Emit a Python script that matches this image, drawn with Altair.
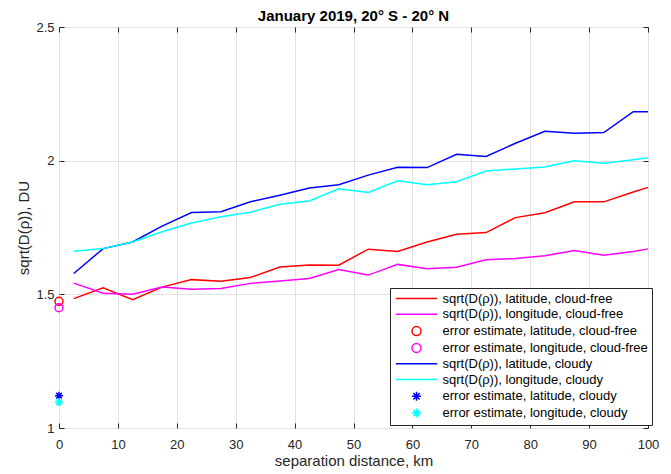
import altair as alt
import pandas as pd

# ---- data ----
distance_km = [2.5, 7.5, 12.5, 17.5, 22.5, 27.5, 32.5, 37.5, 42.5, 47.5, 52.5,
               57.5, 62.5, 67.5, 72.5, 77.5, 82.5, 87.5, 92.5, 97.5, 100]
lat_cloudfree = [1.484, 1.524, 1.480, 1.527, 1.555, 1.549, 1.563, 1.602, 1.610, 1.609, 1.669,
                 1.660, 1.696, 1.725, 1.731, 1.787, 1.805, 1.846, 1.846, 1.883, 1.900]
lon_cloudfree = [1.542, 1.504, 1.500, 1.527, 1.519, 1.522, 1.541, 1.550, 1.559, 1.593, 1.572,
                 1.612, 1.596, 1.601, 1.629, 1.634, 1.644, 1.664, 1.646, 1.660, 1.670]
lat_cloudy = [1.578, 1.671, 1.696, 1.755, 1.806, 1.809, 1.846, 1.871, 1.898, 1.910, 1.946,
              1.975, 1.974, 2.024, 2.016, 2.065, 2.110, 2.103, 2.105, 2.183, 2.183]
lon_cloudy = [1.661, 1.671, 1.696, 1.734, 1.767, 1.790, 1.807, 1.837, 1.849, 1.895, 1.881,
              1.925, 1.910, 1.921, 1.961, 1.969, 1.976, 2.000, 1.990, 2.003, 2.011]
err_x = [0, 0, 0, 0]
err_values = [1.474, 1.450, 1.121, 1.096]

series_names = [
    "sqrt(D(ρ)), latitude, cloud-free",
    "sqrt(D(ρ)), longitude, cloud-free",
    "error estimate, latitude, cloud-free",
    "error estimate, longitude, cloud-free",
    "sqrt(D(ρ)), latitude, cloudy",
    "sqrt(D(ρ)), longitude, cloudy",
    "error estimate, latitude, cloudy",
    "error estimate, longitude, cloudy",
]
series_colors = ["#FF0000", "#FF00FF", "#FF0000", "#FF00FF",
                 "#0000FF", "#00FFFF", "#0000FF", "#00FFFF"]
x_ticks = list(range(0, 101, 10))
y_ticks = [1, 1.5, 2, 2.5]

LINE = "M-4.6,0L4.6,0"
CIRC = "M1,0A1,1 0 1,1 -1,0A1,1 0 1,1 1,0Z"
STAR = "M-1,0L1,0M0,-1L0,1M-0.7,-0.7L0.7,0.7M-0.7,0.7L0.7,-0.7"
series_shapes = [LINE, LINE, CIRC, CIRC, LINE, LINE, STAR, STAR]

rows = []
for name, vals in [(series_names[0], lat_cloudfree), (series_names[1], lon_cloudfree),
                   (series_names[4], lat_cloudy), (series_names[5], lon_cloudy)]:
    for d, v in zip(distance_km, vals):
        rows.append({"series": name, "x": d, "y": v})
lines_df = pd.DataFrame(rows)

pts_df = pd.DataFrame({
    "series": [series_names[2], series_names[3], series_names[6], series_names[7]],
    "x": err_x,
    "y": err_values,
})

FONT = "Liberation Sans"
DARK = "#262626"

legend = alt.Legend(
    title=None, orient="none", legendX=331, legendY=261,
    padding=4, strokeColor=DARK, fillColor="white",
    labelFont=FONT, labelFontSize=13, labelColor="black",
    symbolSize=81, symbolStrokeWidth=1.5, rowPadding=1.8,
    symbolOffset=16, labelOffset=19.5, labelLimit=400,
)

color = alt.Color("series:N", scale=alt.Scale(domain=series_names, range=series_colors),
                  legend=legend)
shape = alt.Shape("series:N", scale=alt.Scale(domain=series_names, range=series_shapes),
                  legend=legend)

xscale = alt.Scale(domain=[0, 100], nice=False, zero=False)
yscale = alt.Scale(domain=[1, 2.5], nice=False, zero=False)

x_axis = alt.Axis(orient="bottom", values=x_ticks, offset=-5, tickSize=5, domain=False,
                  grid=True, gridColor="#e2e2e2", labelPadding=10, labelFontSize=13,
                  labelFont=FONT, labelColor=DARK, tickColor=DARK, labelFlush=False,
                  title="separation distance, km", titleFont=FONT, titleFontSize=15,
                  titleFontWeight="normal", titleColor=DARK, titlePadding=2)
y_axis = alt.Axis(orient="left", values=y_ticks, format="~g", offset=-5, tickSize=5,
                  domain=False, grid=True, gridColor="#e2e2e2", labelPadding=5,
                  labelFontSize=13, labelFont=FONT, labelColor=DARK, tickColor=DARK,
                  labelFlush=False, title="sqrt(D(ρ)), DU", titleFont=FONT,
                  titleFontSize=15, titleFontWeight="normal", titleColor=DARK,
                  titlePadding=4)
x_axis_top = alt.Axis(orient="top", values=x_ticks, offset=-5, tickSize=5, domain=False,
                      grid=False, labels=False, title=None, tickColor=DARK)
y_axis_right = alt.Axis(orient="right", values=y_ticks, offset=-5, tickSize=5, domain=False,
                        grid=False, labels=False, title=None, tickColor=DARK)

lines = alt.Chart(lines_df).mark_line(strokeWidth=1.5).encode(
    x=alt.X("x:Q", scale=xscale, axis=x_axis),
    y=alt.Y("y:Q", scale=yscale, axis=y_axis),
    color=color,
    detail="series:N",
    order="x:Q",
)

points = alt.Chart(pts_df).mark_point(filled=False, size=64, strokeWidth=1.5, opacity=1).encode(
    x=alt.X("x:Q", scale=xscale, axis=x_axis_top),
    y=alt.Y("y:Q", scale=yscale, axis=y_axis_right),
    color=color,
    shape=shape,
)

chart = alt.layer(lines, points).resolve_axis(x="independent", y="independent").properties(
    width=589, height=401,
    title=alt.TitleParams("January 2019, 20° S - 20° N", font=FONT, fontSize=15,
                          fontWeight="bold", color="black", anchor="middle",
                          baseline="alphabetic", offset=4, dy=19),
    autosize=alt.AutoSizeParams(type="none"),
    padding={"left": 59, "top": 27, "right": 23, "bottom": 46},
).configure_view(stroke=DARK, strokeWidth=1).configure(background="white")

chart.save("out.html", embed_options={"renderer": "svg", "actions": False})
